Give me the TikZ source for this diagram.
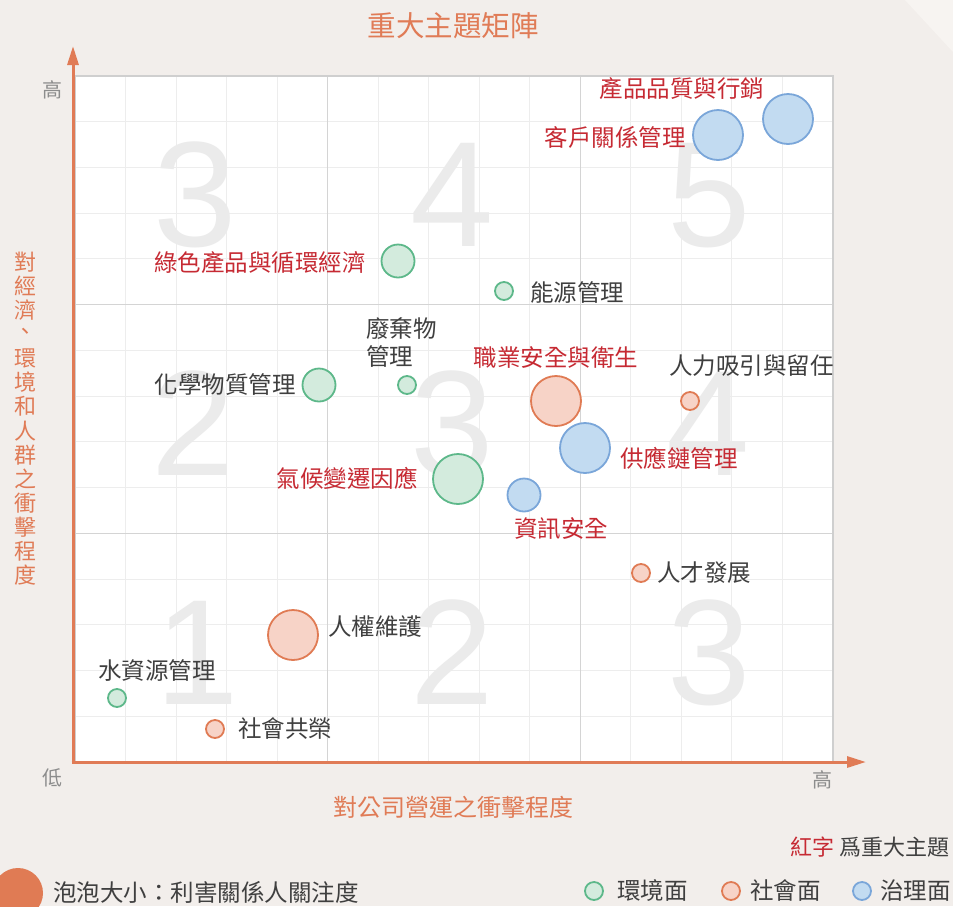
\documentclass[tikz,border=0pt]{standalone}
\usepackage{fontspec}
\newfontfamily\cjk{Noto Sans CJK TC}
\newfontfamily\numfont{Liberation Sans}
\usetikzlibrary{arrows.meta}
\definecolor{bgc}{HTML}{F2EEEB}
\definecolor{cornerc}{HTML}{F7F4F1}
\definecolor{axisc}{HTML}{E07B56}
\definecolor{majred}{HTML}{C62A33}
\definecolor{darkc}{HTML}{3F3F3F}
\definecolor{grayc}{HTML}{8C8C8C}
\definecolor{minorc}{HTML}{EDEDED}
\definecolor{majorc}{HTML}{D4D4D4}
\definecolor{borderc}{HTML}{CFCFCF}
\definecolor{digitc}{HTML}{EBEBEB}
\definecolor{envl}{HTML}{5DB88A}
\definecolor{envf}{HTML}{D3EBDD}
\definecolor{socl}{HTML}{E07B54}
\definecolor{socf}{HTML}{F7D3C7}
\definecolor{govl}{HTML}{7AA6D9}
\definecolor{govf}{HTML}{C2DBF1}
\tikzset{
  lbl/.style={font=\cjk\fontsize{23.5}{28}\selectfont, inner sep=0pt, text=darkc},
  maj/.style={text=majred},
  axlbl/.style={font=\cjk\fontsize{24}{24}\selectfont, inner sep=0pt, text=axisc},
  lowhigh/.style={font=\cjk\fontsize{20}{20}\selectfont, inner sep=0pt, text=grayc},
  digit/.style={font=\numfont\fontsize{150}{150}\selectfont, inner sep=0pt, text=digitc, anchor=base},
  bub/.style={circle, inner sep=0pt, line width=1.8pt},
  env/.style={bub, draw=envl, fill=envf},
  soc/.style={bub, draw=socl, fill=socf},
  gov/.style={bub, draw=govl, fill=govf},
  bs/.style={minimum size=18pt},
  bm/.style={minimum size=33pt},
  bl/.style={minimum size=50pt},
  minorline/.style={draw=minorc, line width=1pt},
  majorline/.style={draw=majorc, line width=1.5pt},
  axisline/.style={draw=axisc, line width=3pt, -{Triangle[length=19pt,width=11pt]}},
}
\begin{document}
\begin{tikzpicture}[x=1pt,y=-1pt]
\useasboundingbox (0,0) rectangle (953,906);
\fill[bgc] (0,0) rectangle (953,906);
\fill[cornerc] (905,0) -- (953,0) -- (953,52) -- cycle;

% plot area and grid
\fill[white] (75,76) rectangle (833,762);
\foreach \i in {1,...,14} {
  \draw[minorline] ({75+\i*758/15},76) -- ++(0,686);
  \draw[minorline] (75,{76+\i*686/15}) -- ++(758,0);
}
\foreach \i in {5,10} {
  \draw[majorline] ({75+\i*758/15},76) -- ++(0,686);
  \draw[majorline] (75,{76+\i*686/15}) -- ++(758,0);
}
\draw[borderc, line width=1.5pt] (75,76) rectangle (833,762);

% quadrant digits
\node[digit] (d13) at (195,246) {3};
\node[digit] (d23) at (452,246) {4};
\node[digit] (d33) at (709,246) {5};
\node[digit] (d12) at (193,475) {2};
\node[digit] (d22) at (452,475) {3};
\node[digit] (d32) at (708,475) {4};
\node[digit] (d11) at (197,704) {1};
\node[digit] (d21) at (452,704) {2};
\node[digit] (d31) at (709,704) {3};

% axes
\coordinate (o) at (73,762);
\coordinate (ytip) at (73,46);
\coordinate (xtip) at (866,762);
\draw[axisline] (o) -- (ytip);
\draw[axisline] ([xshift=-1.5pt]o) -- (xtip);

% title and axis labels
\node[font=\cjk\fontsize{28.5}{28.5}\selectfont, inner sep=0pt, text=axisc] (title) at (453,26) {重大主題矩陣};
\node[axlbl] (xlabel) at (453,807) {對公司營運之衝擊程度};
\foreach \c [count=\i] in {對,經,濟,、,環,境,和,人,群,之,衝,擊,程,度} {
  \node[axlbl, font=\cjk\fontsize{22}{22}\selectfont] (yl\i) at (25,{262+(\i-1)*24.1}) {\c};
}
\node[lowhigh] (yhigh) at (52,90) {高};
\node[lowhigh] (ylow) at (52,778) {低};
\node[lowhigh] (xhigh) at (822,780) {高};

% bubbles
\node[gov,bl] (b-prod) at (788,119) {};
\node[gov,bl] (b-cust) at (718,135) {};
\node[env,bm] (b-green) at (398,261) {};
\node[env,bs] (b-energy) at (504,291) {};
\node[env,bm] (b-chem) at (319,385) {};
\node[env,bs] (b-waste) at (407,385) {};
\node[soc,bl] (b-ohs) at (556,401) {};
\node[soc,bs] (b-talentattr) at (690,401) {};
\node[gov,bl] (b-supply) at (585,448) {};
\node[env,bl] (b-climate) at (458,479) {};
\node[gov,bm] (b-infosec) at (524,495) {};
\node[soc,bs] (b-talentdev) at (641,573) {};
\node[soc,bl] (b-human) at (293,635) {};
\node[env,bs] (b-water) at (117,698) {};
\node[soc,bs] (b-comm) at (215,729) {};

% bubble labels
\node[lbl,maj] (t-prod) at (682,89) {產品品質與行銷};
\node[lbl,maj,anchor=east] (t-cust) at (686,137) {客戶關係管理};
\node[lbl,maj,anchor=east] (t-green) at (366,263) {綠色產品與循環經濟};
\node[lbl,anchor=west] (t-energy) at (530,292) {能源管理};
\node[lbl,anchor=north west,align=left] (t-waste) at (366,317) {廢棄物\\管理};
\node[lbl,maj] (t-ohs) at (556,358) {職業安全與衛生};
\node[lbl,anchor=west] (t-talentattr) at (669,366) {人力吸引與留任};
\node[lbl,anchor=east] (t-chem) at (296,385) {化學物質管理};
\node[lbl,maj,anchor=west] (t-supply) at (620,458) {供應鏈管理};
\node[lbl,maj,anchor=east] (t-climate) at (418,478) {氣候變遷因應};
\node[lbl,maj] (t-infosec) at (561,529) {資訊安全};
\node[lbl,anchor=west] (t-talentdev) at (657,573) {人才發展};
\node[lbl,anchor=west] (t-human) at (328,627) {人權維護};
\node[lbl] (t-water) at (157,670) {水資源管理};
\node[lbl,anchor=west] (t-comm) at (238,729) {社會共榮};

% legend
\node[lbl,anchor=east,font=\cjk\fontsize{22}{22}\selectfont] (note) at (950,847) {\textcolor{majred}{紅字} 爲重大主題};
\node[circle, fill=socl, minimum size=50pt, inner sep=0pt] (szdot) at (18,893) {};
\node[lbl,anchor=west] (sztext) at (53,892) {泡泡大小：利害關係人關注度};
\node[env,bs] (lg-env) at (594,891) {};
\node[lbl,anchor=west] (lgt-env) at (617,891) {環境面};
\node[soc,bs] (lg-soc) at (731,891) {};
\node[lbl,anchor=west] (lgt-soc) at (750,891) {社會面};
\node[gov,bs] (lg-gov) at (862,891) {};
\node[lbl,anchor=west] (lgt-gov) at (880,891) {治理面};
\end{tikzpicture}
\end{document}
